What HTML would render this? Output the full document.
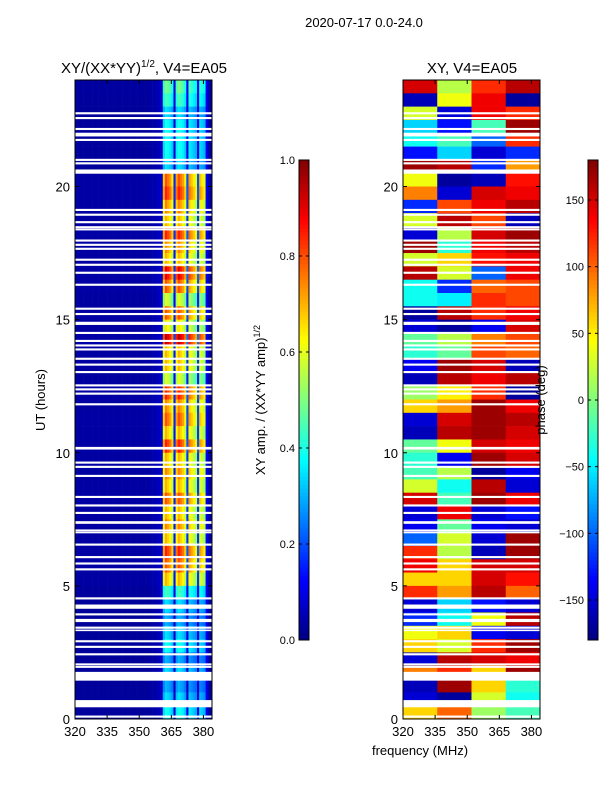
<!DOCTYPE html>
<html><head><meta charset="utf-8">
<style>
body{margin:0;background:#fff;}
svg{display:block;font-family:"Liberation Sans","DejaVu Sans",sans-serif;}
</style></head>
<body>
<svg id="fig" width="600" height="800" viewBox="0 0 600 800">
<text x="364" y="27" font-size="13" text-anchor="middle">2020-07-17 0.0-24.0</text>
<text x="144" y="73" font-size="15" text-anchor="middle">XY/(XX*YY)<tspan font-size="10" dy="-6">1/2</tspan><tspan dy="6">, V4=EA05</tspan></text>
<text x="472" y="73" font-size="15" text-anchor="middle">XY, V4=EA05</text>
<g id="left"></g>
<g id="right"></g>
<g id="axes"></g>
<text x="45" y="400" font-size="13" text-anchor="middle" transform="rotate(-90 45 400)">UT (hours)</text>
<text x="420" y="755" font-size="13" text-anchor="middle">frequency (MHz)</text>
<text x="265" y="400" font-size="13" text-anchor="middle" transform="rotate(-90 265 400)">XY amp. / (XX*YY amp)<tspan font-size="9" dy="-5">1/2</tspan></text>
<text x="545" y="400" font-size="13" text-anchor="middle" transform="rotate(-90 545 400)">phase (deg)</text>
</svg>
<script>
// time rows: half-hour blocks from 24h (top) down to 0h
const ampRows=[0.5,0.45,0.35,0.4,0.4,0.4,0.35,0.8,0.85,0.75,0.7,0.85,0.75,0.7,0.9,0.8,0.6,0.8,0.65,0.95,0.7,0.7,0.6,0.85,
0.75,0.8,0.7,0.85,0.7,0.75,0.7,0.8,0.7,0.75,0.7,0.85,0.8,0.7,0.45,0.35,0.3,0.35,0.4,0.3,0.35,0.3,0.35,0.4];
// frequency channel weights, 1 MHz channels 320..383
const ampCols=[0.02,0.02,0.02,0.02,0.02,0.02,0.02,0.02,0.02,0.02,0.02,0.02,0.02,0.02,0.02,0.02,0.02,0.02,0.02,0.02,
0.02,0.02,0.02,0.02,0.02,0.02,0.02,0.02,0.02,0.02,0.02,0.02,0.02,0.02,0.02,0.03,0.03,0.03,0.04,0.05,
0.06,0.85,1.0,0.95,0.9,0.8,0.2,0.9,1.0,0.95,0.9,0.8,0.25,0.9,0.85,0.8,0.75,0.25,0.85,0.8,0.75,0.1,0.03,0.02];
// phase (deg) per half-hour block (top=24h) for 4 frequency segments
const phaseRows=[[150,20,120,160],[-160,40,140,-170],[30,-150,140,120],[-60,-130,-20,170],[-40,-20,-100,120],[-130,-60,-150,-120],
[170,160,-120,80],[40,-170,-160,130],[90,-150,150,140],[-120,110,140,160],[30,160,110,-160],[-150,20,150,170],
[170,-30,140,160],[30,60,130,140],[160,30,-100,140],[-40,-120,100,110],[-40,-50,120,110],[-170,160,120,140],
[-150,-170,-140,150],[-10,20,90,110],[-30,-10,110,100],[-140,170,150,-160],[-160,160,140,160],[10,50,120,-170],
[60,80,170,140],[-150,150,170,160],[-160,160,170,150],[-10,40,150,140],[-30,-140,170,150],[-20,20,-170,-140],
[30,-40,160,-150],[150,-20,170,140],[-150,140,-150,-130],[-140,-10,-140,-150],[-100,30,-150,170],[120,20,-160,170],
[140,60,150,150],[60,60,150,130],[120,80,160,100],[-150,-60,-130,-150],[-120,-40,40,160],[40,60,-140,-150],
[60,30,120,170],[-150,160,150,140],[90,120,60,170],[-160,170,60,-30],[-150,-170,30,-40],[60,100,10,-20]];
// flagged (white) time intervals, hours [start,end]
const flags=[[22.71,22.79],[22.53,22.61],[22.12,22.2],[21.88,22.02],[21.71,21.79],[20.96,21.04],[20.83,20.91],[20.48,20.64],
[19.08,19.16],[18.9,18.98],[18.62,18.7],[18.43,18.51],[18.35,18.42],[17.93,18.01],[17.77,17.85],[17.62,17.7],[17.21,17.29],
[17.02,17.1],[16.72,16.8],[16.27,16.35],[15.37,15.45],[15.17,15.25],[14.8,14.92],[14.46,14.54],[14.16,14.24],[13.99,14.07],
[13.84,13.92],[13.49,13.57],[13.27,13.35],[12.99,13.07],[12.49,12.57],[12.34,12.42],[12.18,12.26],[11.78,11.86],[10.12,10.22],
[9.59,9.67],[9.43,9.51],[9.09,9.17],[8.3,8.38],[7.98,8.06],[7.7,7.78],[7.33,7.43],[7.04,7.12],[6.99,7.03],[6.51,6.59],
[6.04,6.12],[5.8,5.88],[5.58,5.66],[4.49,4.57],[4.14,4.3],[3.89,3.97],[3.64,3.76],[3.39,3.47],[3.3,3.36],[2.88,2.96],
[2.67,2.75],[2.39,2.47],[2.01,2.09],[1.92,1.99],[1.44,1.77],[0.44,0.71],[0.05,0.13]];
const ampTicks=[0,0.2,0.4,0.6,0.8,1.0];
const phaseTicks=[-150,-100,-50,0,50,100,150];
const xTicks=[320,335,350,365,380];
const yTicks=[0,5,10,15,20];

const NS="http://www.w3.org/2000/svg";
function el(tag,attrs,parent){const e=document.createElementNS(NS,tag);for(const k in attrs)e.setAttribute(k,attrs[k]);parent.appendChild(e);return e;}
function jet(v){v=Math.max(0,Math.min(1,v));
 const r=Math.max(0,Math.min(1,1.5-Math.abs(4*v-3))),g=Math.max(0,Math.min(1,1.5-Math.abs(4*v-2))),b=Math.max(0,Math.min(1,1.5-Math.abs(4*v-1)));
 return `rgb(${Math.round(r*255)},${Math.round(g*255)},${Math.round(b*255)})`;}
const Y0=719,Y1=80;
function yS(h){return Y0-(h/24)*(Y0-Y1);}
function xS(f,x0){return x0+(f-320)/64*137;}
const panels=[75,403];

// left amplitude heatmap
const gl=document.getElementById('left');
ampRows.forEach((a,i)=>{
 const hTop=24-i*0.5,hBot=hTop-0.5;
 ampCols.forEach((w,j)=>{
  const v=w<0.15?w+0.02*a:Math.min(1,w*a);
  const r=el('rect',{x:xS(320+j,75),y:yS(hTop),width:137/64+0.3,height:yS(hBot)-yS(hTop)+0.3,fill:jet(v)},gl);
  
  
 });
});
// right phase heatmap
const gr=document.getElementById('right');
phaseRows.forEach((row,i)=>{
 const hTop=24-i*0.5,hBot=hTop-0.5;
 row.forEach((p,j)=>{
  const r=el('rect',{x:xS(320+j*16,403),y:yS(hTop),width:137/4+0.3,height:yS(hBot)-yS(hTop)+0.3,fill:jet((p+180)/360)},gr);
  
  
 });
});
// flags
panels.forEach(x0=>{
 const g=x0===75?gl:gr;
 flags.forEach(f=>{
  const r=el('rect',{x:x0,y:yS(f[1]),width:137,height:Math.max(1.5,yS(f[0])-yS(f[1])),fill:'#fff'},g);
  
  
 });
});
// axes
const ga=document.getElementById('axes');
panels.forEach(x0=>{
 const fr=el('rect',{x:x0,y:Y1,width:137,height:Y0-Y1,fill:'none',stroke:'#000','stroke-width':1},ga);
 
 
 xTicks.forEach(t=>{
  const x=xS(t,x0);
  el('line',{x1:x,x2:x,y1:Y0,y2:Y0-4,stroke:'#000'},ga);
  el('line',{x1:x,x2:x,y1:Y1,y2:Y1+4,stroke:'#000'},ga);
  const tx=el('text',{x:x,y:Y0+17,'font-size':13,'text-anchor':'middle'},ga);
  tx.textContent=t;
  
  
 });
 yTicks.forEach(t=>{
  const y=yS(t);
  el('line',{x1:x0,x2:x0+4,y1:y,y2:y,stroke:'#000'},ga);
  el('line',{x1:x0+137,x2:x0+133,y1:y,y2:y,stroke:'#000'},ga);
  const tx=el('text',{x:x0-5,y:y+5,'font-size':13,'text-anchor':'end'},ga);
  tx.textContent=t;
  
  
 });
});
// colorbars
function colorbar(x,ticks,lo,hi,name){
 const g=el('g',{},ga);
 
 
 const top=160,bot=640,n=120;
 for(let k=0;k<n;k++){
  el('rect',{x:x,y:bot-(k+1)*(bot-top)/n,width:10,height:(bot-top)/n+0.5,fill:jet((k+0.5)/n)},g);
 }
 el('rect',{x:x,y:top,width:10,height:bot-top,fill:'none',stroke:'#000'},g);
 ticks.forEach(t=>{
  const y=bot-(t-lo)/(hi-lo)*(bot-top);
  el('line',{x1:x,x2:x+3,y1:y,y2:y,stroke:'#000'},g);
  el('line',{x1:x+10,x2:x+7,y1:y,y2:y,stroke:'#000'},g);
  const tx=el('text',{x:x-4,y:y+4,'font-size':11,'text-anchor':'end'},g);
  tx.textContent=(lo===0?t.toFixed(1):(t<0?'\u2212'+(-t):t));
  
  
 });
}
colorbar(299,ampTicks,0,1,'amp-colorbar');
colorbar(588,phaseTicks,-180,180,'phase-colorbar');
</script>
</body></html>
